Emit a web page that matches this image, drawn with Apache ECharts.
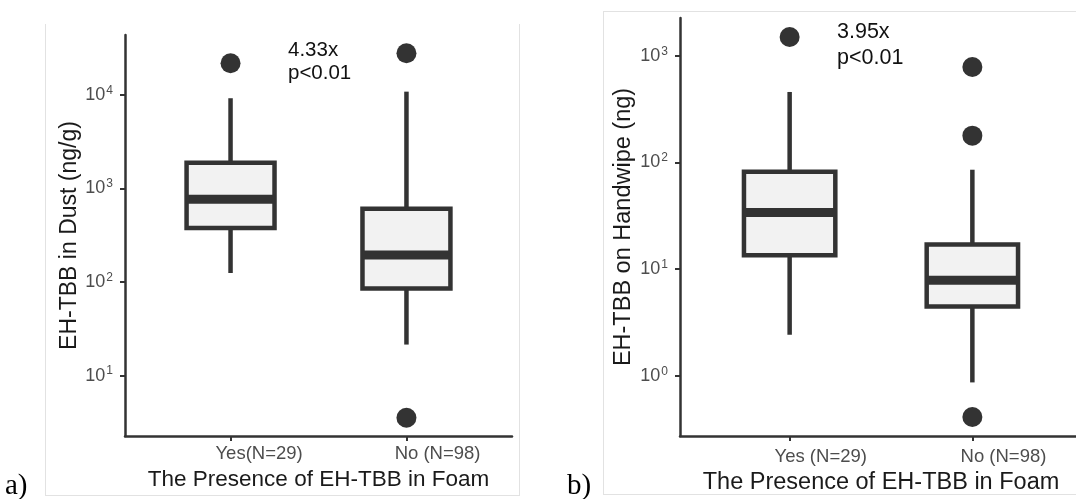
<!DOCTYPE html>
<html><head><meta charset="utf-8">
<script src="https://cdn.jsdelivr.net/npm/echarts@6/dist/echarts.min.js"></script>
<style>html,body{margin:0;padding:0;background:#fff}#c{width:1076px;height:499px}</style>
</head><body><div id="c"></div>
<script>
// ---- data ----
const categories = ['Yes', 'No'];
const categoryPos = [1, 2];
const dustTickLabels = ['Yes(N=29)', 'No (N=98)'];
const handTickLabels = ['Yes (N=29)', 'No (N=98)'];
// [min whisker, Q1, median, Q3, max whisker]
const dustBoxYes = [125, 378, 766, 1888, 9220];
const dustBoxNo = [21.5, 85.5, 194.5, 607, 10840];
const dustOutlierPos = [1, 2, 2];
const dustOutlierVal = [21800, 27900, 3.55];
const handBoxYes = [2.42, 13.5, 33.9, 81.8, 457];
const handBoxNo = [0.865, 4.46, 7.86, 17.0, 85.3];
const handOutlierPos = [1, 2, 2, 2];
const handOutlierVal = [1497, 783, 178, 0.41];
const dustYTicks = [10, 100, 1000, 10000];
const handYTicks = [1, 10, 100, 1000];
const dustNote = ['4.33x', 'p<0.01'];
const handNote = ['3.95x', 'p<0.01'];
const xTitle = 'The Presence of EH-TBB in Foam';
const dustYTitle = 'EH-TBB in Dust (ng/g)';
const handYTitle = 'EH-TBB on Handwipe (ng)';

const FONT = '"Liberation Sans", Arial, sans-serif';
const DARK = '#333333';

function logExtent(boxes, outliers) {
  const all = boxes.flat().concat(outliers).map(v => Math.log10(v));
  const lo = Math.min(...all), hi = Math.max(...all), pad = (hi - lo) * 0.05;
  return [Math.pow(10, lo - pad), Math.pow(10, hi + pad)];
}
const dustExt = logExtent([dustBoxYes, dustBoxNo], dustOutlierVal);
const handExt = logExtent([handBoxYes, handBoxNo], handOutlierVal);

const cv = document.createElement('canvas').getContext('2d');
function textW(t, size) { cv.font = size + 'px ' + FONT; return cv.measureText(t).width; }

function xAxisFor(grid, labels, size, margin, titleSize, nameGap) {
  const rich = {};
  labels.forEach((l, i) => {
    rich['l' + i] = { fontSize: size, color: '#4d4d4d', fontFamily: FONT,
      padding: [0, 0, 0, textW(l, size) - textW(categories[i], size)] };
  });
  return {
    type: 'value', gridIndex: grid, min: 0.4, max: 2.6,
    splitLine: { show: false },
    axisLine: { show: true, onZero: false, lineStyle: { color: DARK, width: 2.5 } },
    axisTick: { show: true, customValues: categoryPos, length: 5, lineStyle: { color: DARK, width: 2 } },
    axisLabel: { customValues: categoryPos, margin: margin, fontSize: size, color: '#4d4d4d', fontFamily: FONT,
      formatter: v => { const i = categoryPos.indexOf(v); return '{l' + i + '|' + labels[i] + '}'; }, rich: rich },
    name: xTitle, nameLocation: 'middle', nameGap: nameGap,
    nameTextStyle: { fontSize: titleSize, color: '#1a1a1a', fontFamily: FONT }
  };
}
function yAxisFor(grid, ext, ticks, size, title, titleSize, nameGap) {
  return {
    type: 'log', logBase: 10, gridIndex: grid, min: ext[0], max: ext[1],
    splitLine: { show: false }, minorTick: { show: false },
    axisLine: { show: true, lineStyle: { color: DARK, width: 2.5 } },
    axisTick: { show: true, customValues: ticks, length: 5, lineStyle: { color: DARK, width: 2 } },
    axisLabel: { customValues: ticks, margin: 12, fontSize: size, color: '#4d4d4d', fontFamily: FONT,
      formatter: v => '10{s|' + Math.round(Math.log10(v)) + '}',
      rich: { s: { fontSize: Math.round(size * 0.65), color: '#4d4d4d', fontFamily: FONT, padding: [0, 0, 9, 1] } } },
    name: title, nameLocation: 'middle', nameGap: nameGap,
    nameTextStyle: { fontSize: titleSize, color: '#1a1a1a', fontFamily: FONT }
  };
}
function renderBox(params, api) {
  const x = api.value(0);
  const lo = api.coord([x, api.value(1)]);
  const q1 = api.coord([x, api.value(2)]);
  const md = api.coord([x, api.value(3)]);
  const q3 = api.coord([x, api.value(4)]);
  const hi = api.coord([x, api.value(5)]);
  const w = api.size([0.5, 0], [x, 1])[0];
  const lw = 4.5;
  return { type: 'group', children: [
    { type: 'line', shape: { x1: lo[0], y1: lo[1], x2: q1[0], y2: q1[1] }, style: { stroke: DARK, lineWidth: lw } },
    { type: 'line', shape: { x1: q3[0], y1: q3[1], x2: hi[0], y2: hi[1] }, style: { stroke: DARK, lineWidth: lw } },
    { type: 'rect', shape: { x: md[0] - w / 2, y: q3[1], width: w, height: q1[1] - q3[1] },
      style: { fill: '#f2f2f2', stroke: DARK, lineWidth: lw } },
    { type: 'rect', shape: { x: md[0] - w / 2, y: md[1] - 4.5, width: w, height: 9 }, style: { fill: DARK } }
  ] };
}
function boxSeries(idx, boxes) {
  return { type: 'custom', xAxisIndex: idx, yAxisIndex: idx, renderItem: renderBox,
    encode: { x: 0, y: [1, 2, 3, 4, 5] },
    data: boxes.map((b, i) => [categoryPos[i]].concat(b)), z: 2 };
}
function outlierSeries(idx, pos, vals) {
  return { type: 'scatter', xAxisIndex: idx, yAxisIndex: idx, symbolSize: 20,
    itemStyle: { color: DARK, opacity: 1 }, data: pos.map((p, i) => [p, vals[i]]), z: 3 };
}
function noteText(lines, x, y0, dy, size) {
  return lines.map((t, i) => ({ type: 'text', x: x, y: y0 + i * dy,
    style: { text: t, fontSize: size, fontFamily: FONT, fill: '#111', verticalAlign: 'middle', align: 'left' } }));
}
function vline(x, y1, y2) { return { type: 'line', shape: { x1: x, y1: y1, x2: x, y2: y2 }, style: { stroke: '#e2e2e2', lineWidth: 1 } }; }
function hline(y, x1, x2) { return { type: 'line', shape: { x1: x1, y1: y, x2: x2, y2: y }, style: { stroke: '#e2e2e2', lineWidth: 1 } }; }

const chart = echarts.init(document.getElementById('c'), null, { renderer: 'canvas' });
chart.setOption({
  backgroundColor: '#ffffff',
  animation: false,
  grid: [
    { left: 125, top: 35, width: 387, height: 401, outerBoundsMode: 'none', containLabel: false },
    { left: 680, top: 18, width: 402, height: 418, outerBoundsMode: 'none', containLabel: false }
  ],
  xAxis: [
    xAxisFor(0, dustTickLabels, 18.5, 8, 22.5, 30),
    xAxisFor(1, handTickLabels, 18.5, 11, 23.5, 34)
  ],
  yAxis: [
    yAxisFor(0, dustExt, dustYTicks, 18, dustYTitle, 23, 40),
    yAxisFor(1, handExt, handYTicks, 18, handYTitle, 23.5, 44)
  ],
  series: [
    boxSeries(0, [dustBoxYes, dustBoxNo]),
    outlierSeries(0, dustOutlierPos, dustOutlierVal),
    boxSeries(1, [handBoxYes, handBoxNo]),
    outlierSeries(1, handOutlierPos, handOutlierVal)
  ],
  graphic: [
    vline(45.5, 24, 495), vline(519.5, 24, 495), hline(495.5, 45, 520),
    vline(603.5, 11, 494), hline(11.5, 603, 1076), hline(494.5, 603, 1076),
    { type: 'text', x: 5, y: 486, style: { text: 'a)', fontSize: 29, fontFamily: '"Liberation Serif", "Times New Roman", serif', fill: '#000', verticalAlign: 'middle' } },
    { type: 'text', x: 567, y: 486, style: { text: 'b)', fontSize: 29, fontFamily: '"Liberation Serif", "Times New Roman", serif', fill: '#000', verticalAlign: 'middle' } }
  ].concat(noteText(dustNote, 288, 50, 23, 20.5), noteText(handNote, 837, 32.5, 26, 21.5))
});
</script></body></html>
